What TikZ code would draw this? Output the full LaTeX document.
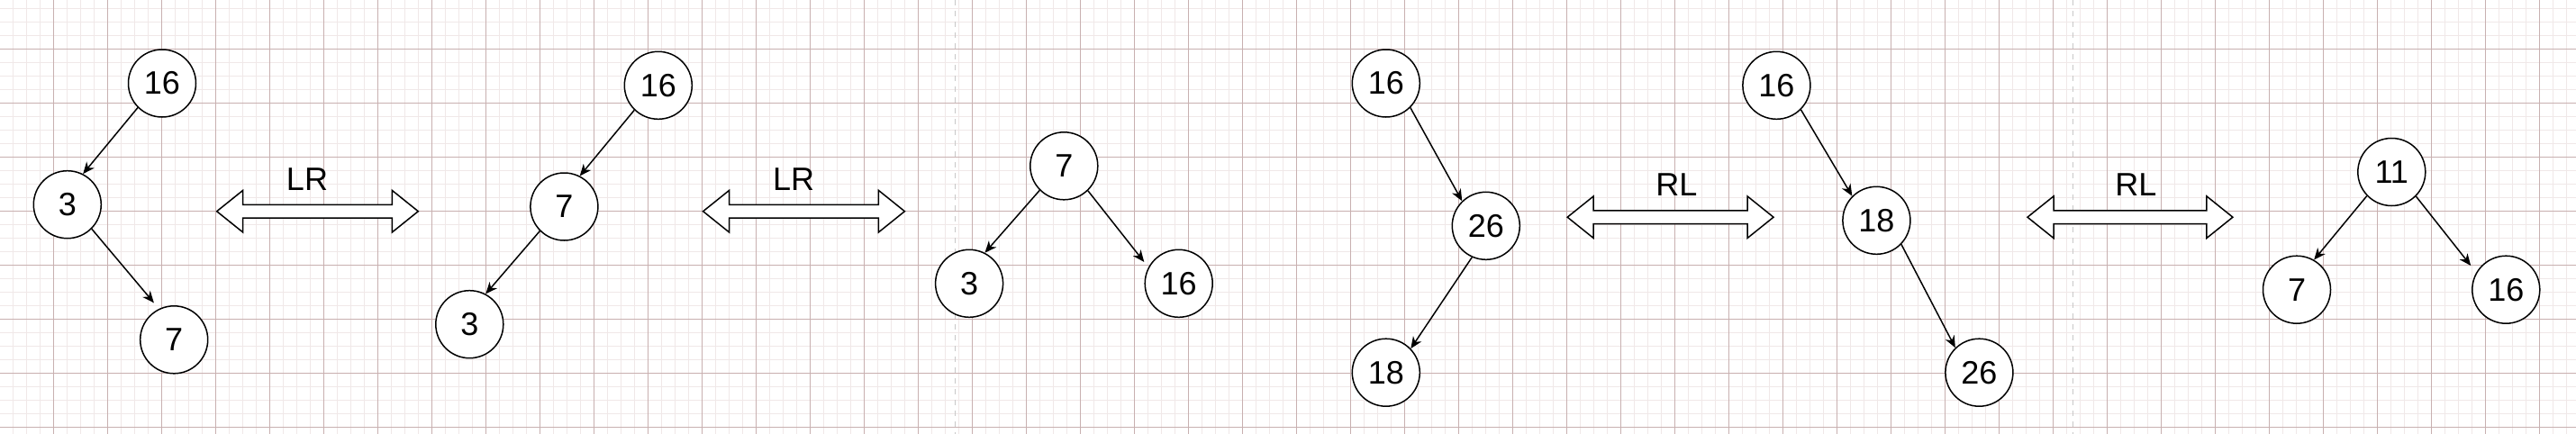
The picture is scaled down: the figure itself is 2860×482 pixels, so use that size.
\documentclass[tikz,border=0pt]{standalone}
\usepackage{fontspec}
\setmainfont{Liberation Sans}
\usetikzlibrary{arrows.meta}
\definecolor{gridminor}{RGB}{240,232,232}
\definecolor{gridmajor}{RGB}{200,176,176}
\definecolor{pagebreak}{RGB}{200,200,200}
\newcommand\dblarrow[3]{%
  \draw[dblshape] (#1,#3) -- ++(29,-23.3) -- ++(0,16) -- ({#2-29},{#3-7.3}) -- ++(0,-16)
    -- (#2,#3) -- ({#2-29},{#3+23.3}) -- ++(0,-16) -- ({#1+29},{#3+7.3}) -- ++(0,16) -- cycle;}
\tikzset{
  treenode/.style={circle, draw=black, fill=white, line width=1.5pt, minimum size=75pt,
    inner sep=0pt, font=\fontsize{36}{43}\selectfont},
  edge/.style={draw=black, line width=1.5pt, -{Stealth[length=13pt,width=11pt,inset=4pt]}},
  dblshape/.style={draw=black, fill=white, line width=1.5pt, line join=miter},
  rotlabel/.style={inner sep=0pt, font=\fontsize{36}{43}\selectfont},
  minorline/.style={draw=gridminor, line width=1.5pt},
  majorline/.style={draw=gridmajor, line width=1pt},
  pbreak/.style={draw=pagebreak, line width=1.5pt, dash pattern=on 6pt off 6pt}
}
\begin{document}
\begin{tikzpicture}[x=1pt, y=-1pt]
\useasboundingbox (0,0) rectangle (2860,482);
\fill[white] (0,0) rectangle (2860,482);
\begin{scope}
\clip (0,0) rectangle (2860,482);
\foreach \i in {0,...,190} \draw[minorline] ({14.3+15*\i},0) -- ++(0,482);
\foreach \j in {0,...,32} \draw[minorline] (0,{9.3+15*\j}) -- ++(2860,0);
\foreach \i in {-1,...,47} \draw[majorline] ({59.3+60*\i},0) -- ++(0,482);
\foreach \j in {-1,...,8} \draw[majorline] (0,{54.3+60*\j}) -- ++(2860,0);
\draw[pbreak] (1060.3,0) -- (1060.3,482);
\draw[pbreak] (2301.3,0) -- (2301.3,482);
\end{scope}

% tree 1
\node[treenode] (A16) at (180,92.5) {16};
\node[treenode] (A3) at (74.8,227.2) {3};
\node[treenode] (A7) at (193.2,377.3) {7};
% tree 2
\node[treenode] (B16) at (730.8,94.8) {16};
\node[treenode] (B7) at (626.4,229.5) {7};
\node[treenode] (B3) at (521.3,360.2) {3};
% tree 3
\node[treenode] (C7) at (1181.3,184.3) {7};
\node[treenode] (C3) at (1076.1,314.8) {3};
\node[treenode] (C16) at (1308.7,314.8) {16};
% tree 4
\node[treenode] (D16) at (1538.8,92.5) {16};
\node[treenode] (D26) at (1649.8,250.8) {26};
\node[treenode] (D18) at (1538.8,413.7) {18};
% tree 5
\node[treenode] (E16) at (1972.4,94.8) {16};
\node[treenode] (E18) at (2083.4,244.8) {18};
\node[treenode] (E26) at (2197.4,413.7) {26};
% tree 6
\node[treenode] (F11) at (2655.3,191) {11};
\node[treenode] (F7) at (2550,321.7) {7};
\node[treenode] (F16) at (2782.3,321.7) {16};

% edges
\draw[edge] (A16.-135) -- (A3.63);
\draw[edge, shorten >=8.6pt] (A3.-45) -- (A7.116);
\draw[edge] (B16.-134) -- (B7.63);
\draw[edge] (B7.-135) -- (B3.62);
\draw[edge] (C7.-135) -- (C3.63);
\draw[edge, shorten >=7.5pt] (C7.-46) -- (C16.152);
\draw[edge] (D16.-45) -- (D26.134);
\draw[edge] (D26.-114) -- (D18.44);
\draw[edge] (E16.-45) -- (E18.135);
\draw[edge] (E18.-44) -- (E26.134);
\draw[edge] (F11.-136) -- (F7.60);
\draw[edge, shorten >=9.6pt] (F11.-45) -- (F16.150);

% rotation arrows
\dblarrow{240.7}{464.3}{234.7}
\dblarrow{780.6}{1004.4}{234.7}
\dblarrow{1740.2}{1969}{241.2}
\dblarrow{2251}{2478.9}{241.2}
\node[rotlabel] (L1) at (341,199.3) {LR};
\node[rotlabel] (L2) at (881,199.3) {LR};
\node[rotlabel] (L3) at (1861.3,205.5) {RL};
\node[rotlabel] (L4) at (2371.4,205.5) {RL};
\end{tikzpicture}
\end{document}
